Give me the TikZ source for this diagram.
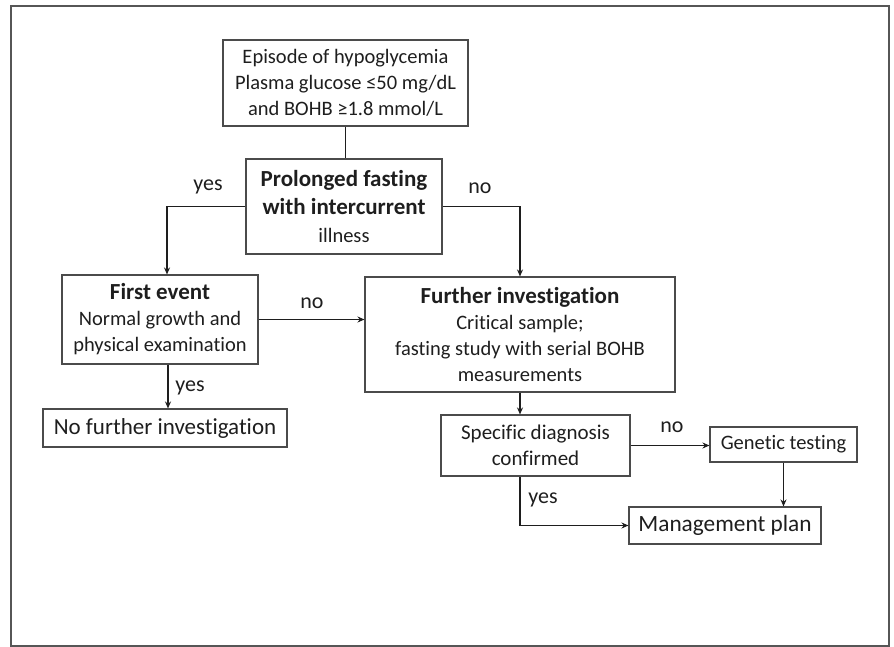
\documentclass[tikz,border=0pt]{standalone}
\usepackage{fontspec}
\setmainfont{Carlito}[Ligatures=NoCommon]
\usetikzlibrary{arrows.meta}
\definecolor{ink}{HTML}{1e1e1e}
\newcommand\hd[1]{{\fontsize{23}{28}\selectfont\bfseries #1}}
\begin{document}
\begin{tikzpicture}[x=1pt,y=-1pt,font=\fontsize{20.5}{26}\selectfont,text=ink,
  box/.style={draw=ink!80,line width=1.1pt,rectangle,align=center,inner sep=2pt},
  flow/.style={draw=ink,line width=1.8pt,-{Stealth[length=7pt,width=6pt]}},
  lbl/.style={inner sep=0pt,font=\fontsize{22}{26}\selectfont}]
\useasboundingbox(0,0)rectangle(894,647);
\draw[ink!75,line width=1.5pt](11,6)rectangle(889,646);
% boxes
\node[box,minimum width=245pt,minimum height=86pt](episode)at(345.5,83){Episode of hypoglycemia\\Plasma glucose ≤50 mg/dL\\and BOHB ≥1.8 mmol/L};
\node[box,minimum width=196pt,minimum height=95pt,font=\fontsize{20.5}{28}\selectfont](fasting)at(344,206.5){\hd{Prolonged fasting}\\\hd{with intercurrent}\\illness};
\node[box,minimum width=196pt,minimum height=89pt](first)at(160,319.5){\hd{First event}\\Normal growth and\\physical examination};
\node[box,minimum width=244pt,minimum height=38pt,font=\fontsize{23}{26}\selectfont](nofurther)at(165,428){No further investigation};
\node[box,minimum width=310pt,minimum height=115pt](further)at(520,334.5){\hd{Further investigation}\\Critical sample;\\fasting study with serial BOHB\\measurements};
\node[box,minimum width=189pt,minimum height=61pt,font=\fontsize{21}{26}\selectfont](specific)at(535.5,445.5){Specific diagnosis\\confirmed};
\node[box,minimum width=147pt,minimum height=35pt](genetic)at(783.5,444.5){Genetic testing};
\node[box,minimum width=192pt,minimum height=37pt,font=\fontsize{23.3}{26}\selectfont](mgmt)at(725,525.5){Management plan};
% connectors
\draw[ink,line width=1.8pt](episode.south)--(episode.south|-fasting.north);
\draw[flow](fasting.west)-|([xshift=7pt]first.north);
\draw[flow](fasting.east)-|(further.north);
\draw[flow](first.east)--(first.east-|further.west);
\draw[flow]([xshift=8pt]first.south)--([xshift=8pt]first.south|-nofurther.north);
\draw[flow](further.south)--(further.south|-specific.north);
\draw[flow](specific.east)--(specific.east-|genetic.west);
\draw[flow](genetic.south)--(genetic.south|-mgmt.north);
\draw[flow](further.south|-specific.south)--(further.south|-mgmt.west)--(mgmt.west);
% labels
\foreach \p/\t/\n in {{(208,187)}/yes/yesA,{(480,188)}/no/noA,{(312,303)}/no/noB,{(190,388)}/yes/yesB,{(672,427)}/no/noC,{(543,500)}/yes/yesC}
  \node[lbl](\n)at\p{\t};
\end{tikzpicture}
\end{document}
